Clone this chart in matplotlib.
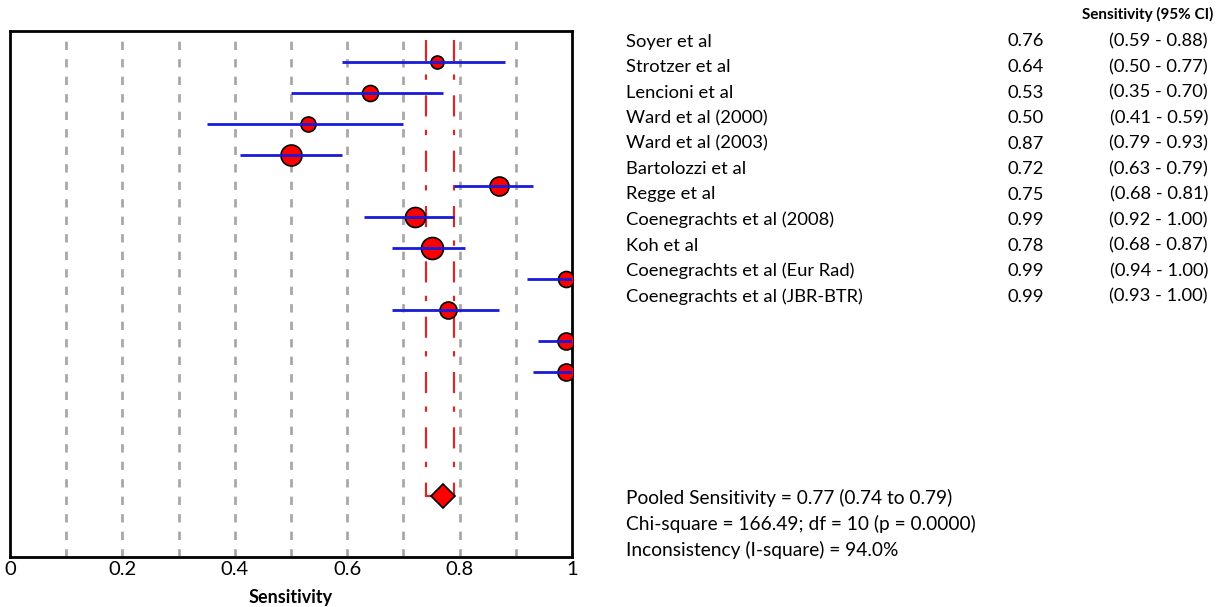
import numpy as np
import matplotlib.pyplot as plt

plt.rcParams['font.family'] = ['Lato', 'DejaVu Sans']

studies = ["Soyer et al", "Strotzer et al", "Lencioni et al", "Ward et al (2000)",
           "Ward et al (2003)", "Bartolozzi et al", "Regge et al",
           "Coenegrachts et al (2008)", "Koh et al", "Coenegrachts et al (Eur Rad)",
           "Coenegrachts et al (JBR-BTR)"]
sens = [0.76, 0.64, 0.53, 0.50, 0.87, 0.72, 0.75, 0.99, 0.78, 0.99, 0.99]
ci_lo = [0.59, 0.50, 0.35, 0.41, 0.79, 0.63, 0.68, 0.92, 0.68, 0.94, 0.93]
ci_hi = [0.88, 0.77, 0.70, 0.59, 0.93, 0.79, 0.81, 1.00, 0.87, 1.00, 1.00]
pooled, pooled_lo, pooled_hi = 0.77, 0.74, 0.79
stats = ["Pooled Sensitivity = 0.77 (0.74 to 0.79)",
         "Chi-square = 166.49; df = 10 (p = 0.0000)",
         "Inconsistency (I-square) = 94.0%"]
xticks = [0, 0.2, 0.4, 0.6, 0.8, 1]
xtick_labels = ["0", "0.2", "0.4", "0.6", "0.8", "1"]

# marker diameters in pixels (study weights)
marker_px = [13, 16, 15, 21, 19, 20, 22, 16, 17, 17, 17]

W, H = 1219, 607
fig = plt.figure(figsize=(W / 100, H / 100), dpi=100)
ax = fig.add_axes([10 / W, 1 - 557 / H, 562 / W, 526 / H])

rows = np.arange(1, len(sens) + 1)

for g in np.arange(0.1, 1.0, 0.1):
    ax.axvline(g, color="#a8a8a8", lw=2, dashes=(3, 3.3), zorder=1)

for i in range(len(sens)):
    ax.plot(sens[i], rows[i], "o", ms=marker_px[i] * 0.72, mfc="red",
            mec="black", mew=1.2, zorder=3)
    ax.plot([ci_lo[i], ci_hi[i]], [rows[i], rows[i]], color="#1a1ad8",
            lw=2, zorder=4, solid_capstyle="butt")

pool_row = 15
for xv in (pooled_lo, pooled_hi):
    ax.plot([xv, xv], [0.3, pool_row], color="#d62828", lw=1.6,
            dashes=(9.5, 6.0, 2.4, 7.0), zorder=2)
ax.plot([pooled_lo, pooled_hi], [pool_row, pool_row], color="#d62828", lw=1.6, zorder=2)
ax.plot(pooled, pool_row, "D", ms=12.5, mfc="red", mec="black", mew=1.2, zorder=5)

ax.set_xlim(0, 1)
ax.set_ylim(16.95, 0)
ax.set_yticks([])
ax.set_xticks(xticks)
ax.set_xticklabels(xtick_labels, fontsize=14.5)
ax.tick_params(axis="x", length=0, pad=3)
for s in ax.spines.values():
    s.set_linewidth(2)
ax.set_xlabel("Sensitivity", fontsize=13, fontweight="bold", labelpad=8)

def fx(px):
    return px / W

def fy(py):
    return 1 - py / H

fig.text(fx(1213), fy(14), "Sensitivity (95% CI)", fontsize=11, fontweight="bold",
         ha="right", va="center")
for i in range(len(studies)):
    y = 41.5 + i * 25.5
    fig.text(fx(626), fy(y), studies[i], fontsize=13.2, va="center")
    fig.text(fx(1008), fy(y), "%.2f" % sens[i], fontsize=13.2, va="center")
    fig.text(fx(1208), fy(y), "(%.2f - %.2f)" % (ci_lo[i], ci_hi[i]),
             fontsize=13.2, va="center", ha="right")

for i in range(len(stats)):
    fig.text(fx(626), fy(498 + i * 26), stats[i], fontsize=13.8, va="center")

fig.savefig("out.png", dpi=100)
